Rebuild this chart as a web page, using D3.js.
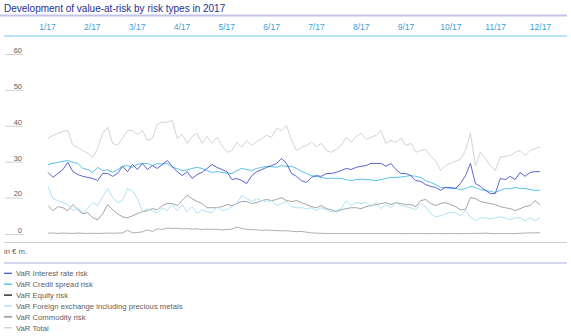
<!DOCTYPE html>
<html><head><meta charset="utf-8">
<script src="https://cdn.jsdelivr.net/npm/d3@7"></script>
<style>
body{margin:0;background:#fff;}
svg text{font-family:Arial,"Liberation Sans",Helvetica,sans-serif;}
</style></head><body>
<svg id="chart" width="571" height="336"></svg>
<script>
// Month labels along the top and value ticks on the left (in € m.)
const months = ["1/17","2/17","3/17","4/17","5/17","6/17","7/17","8/17","9/17","10/17","11/17","12/17"];
const yTicks = [0, 20, 30, 40, 50, 60];

// Series names as shown in the legend
const seriesNames = [
  "VaR Interest rate risk",
  "VaR Credit spread risk",
  "VaR Equity risk",
  "VaR Foreign exchange including precious metals",
  "VaR Commodity risk",
  "VaR Total"
];

// Sampled values through 2017 (roughly every 2-3 trading days), € m.
const interestRate = [27.0,25.6,26.7,27.8,29.8,27.2,26.4,25.9,25.6,25.3,
  24.7,26.7,26.7,25.9,26.7,28.7,27.2,29.2,27.8,29.5,
  27.8,28.9,28.1,29.2,30.3,28.7,27.2,26.1,27.2,25.3,
  26.4,27.0,28.1,29.2,28.4,27.8,27.2,25.0,25.3,24.7,
  23.9,26.1,27.2,27.8,28.4,28.9,29.5,30.9,29.5,26.7,
  25.9,24.7,24.2,25.6,26.1,25.9,26.7,26.7,27.0,27.5,
  28.1,27.8,28.4,28.7,28.9,29.5,29.5,29.5,28.7,29.5,
  27.8,26.7,26.7,26.1,24.7,24.5,23.6,23.1,22.8,22.0,
  22.8,22.8,22.5,23.9,26.1,29.5,23.9,23.1,22.0,21.1,
  21.1,25.3,25.0,25.9,25.0,27.0,25.9,27.0,27.2,27.2];

const creditSpread = [29.2,29.5,29.8,30.1,30.3,29.8,29.5,28.1,27.8,27.0,
  28.4,27.5,27.7,27.0,27.8,28.7,28.9,28.4,29.2,29.5,
  29.5,28.9,29.5,29.3,29.5,28.4,28.1,27.5,27.7,28.1,
  28.4,28.1,27.5,27.0,27.2,27.0,26.8,26.7,27.5,28.1,
  27.8,27.5,28.1,28.4,28.7,28.6,28.4,28.9,28.7,28.7,
  28.1,27.3,26.7,26.1,25.9,25.6,25.3,25.4,25.3,25.3,
  25.0,24.7,25.0,25.1,25.0,24.9,24.7,25.0,25.3,25.6,
  25.6,25.7,25.9,26.1,25.9,25.6,24.7,24.2,23.6,22.8,
  22.8,22.5,22.6,22.2,22.5,23.1,22.8,22.2,22.0,21.7,
  21.4,22.0,22.5,22.4,22.8,22.5,22.5,22.2,22.0,22.0];

const equity = [15.6,12.8,15.0,14.4,12.8,16.1,13.3,11.1,11.7,8.9,
  7.8,11.1,16.1,13.3,11.1,9.4,8.9,10.0,11.1,12.2,
  12.8,13.9,13.3,15.6,16.7,16.7,15.6,18.3,20.6,19.4,
  17.8,16.7,14.4,14.4,14.4,15.0,16.1,15.6,16.7,17.8,
  17.8,16.7,17.2,18.3,18.9,18.3,18.9,20.0,18.3,17.8,
  18.3,17.2,16.1,15.0,14.4,15.6,13.9,13.3,12.2,13.3,
  13.9,14.4,14.4,13.9,15.0,15.6,16.1,16.7,17.2,16.1,
  17.2,16.7,16.1,16.1,15.0,18.3,18.9,16.7,15.6,16.7,
  17.2,16.1,15.0,13.3,13.3,20.0,19.4,17.8,17.2,16.7,
  16.1,15.0,14.4,13.9,12.8,13.9,15.0,15.6,18.3,16.1];

const foreignExchange = [23.1,19.4,18.3,17.2,16.1,12.8,14.4,11.7,13.9,17.2,
  15.6,20.3,22.5,20.0,17.2,18.3,22.5,21.9,19.4,12.2,
  13.9,12.8,11.7,14.4,12.8,16.1,12.8,16.1,12.2,15.0,
  11.1,13.3,12.2,11.7,15.0,12.8,13.3,15.0,16.7,20.6,
  19.4,17.8,19.4,18.3,17.8,18.3,15.6,16.7,17.8,15.0,
  14.4,14.4,13.9,14.4,12.8,14.4,13.3,12.2,12.8,13.9,
  18.3,15.6,17.2,16.7,17.2,15.0,17.2,13.9,16.1,14.4,
  17.2,15.6,15.0,14.4,13.3,16.7,15.0,11.1,9.4,10.0,
  11.1,11.7,11.7,10.0,12.8,9.4,7.2,8.9,8.9,8.3,
  8.9,9.4,8.9,7.8,8.9,8.9,7.2,8.9,7.2,8.9];

const commodity = [0.4,0.6,0.3,0.5,0.4,0.3,0.5,0.4,0.3,0.4,
  0.3,0.4,0.5,0.4,0.5,0.6,2.0,0.7,0.8,1.2,
  2.3,1.4,2.8,2.5,3.3,3.0,3.2,2.8,3.0,2.6,
  2.9,2.4,2.7,2.5,2.6,2.2,2.5,2.6,3.8,3.0,
  2.6,2.4,2.3,2.0,2.2,2.0,1.9,1.7,1.8,1.5,
  1.3,1.4,1.0,0.6,0.5,0.4,0.3,0.3,0.2,0.3,
  0.2,0.3,0.2,0.3,0.2,0.2,0.3,0.2,0.3,0.2,
  0.3,0.2,0.2,0.3,0.2,0.3,0.2,0.2,0.3,0.2,
  0.2,0.3,0.2,0.2,0.3,0.2,0.4,0.3,0.5,0.3,
  0.2,0.3,0.2,0.3,0.2,0.4,0.5,0.6,0.6,0.7];

const total = [36.5,37.3,37.9,38.4,38.7,34.5,34.0,33.1,32.3,31.2,
  33.7,37.9,39.6,35.1,34.5,36.5,38.7,38.7,37.6,38.7,
  35.9,36.5,40.4,41.0,41.0,41.5,36.5,37.6,35.1,37.0,
  37.9,35.1,37.0,35.1,36.8,34.5,32.6,33.1,35.4,34.0,
  35.9,34.5,35.6,36.5,37.3,36.8,39.3,38.7,40.1,35.9,
  33.1,34.0,34.5,35.4,34.2,35.1,33.1,32.6,33.4,34.5,
  36.8,35.4,37.0,37.9,36.2,36.8,37.3,38.7,35.1,35.9,
  35.4,36.5,34.5,35.1,32.6,33.1,33.4,31.5,30.3,27.5,
  28.9,29.5,30.1,30.6,33.1,37.9,28.9,32.6,30.9,28.9,
  27.5,31.2,31.5,31.7,32.6,33.1,31.7,33.1,33.6,34.2];

const seriesValues = [interestRate, creditSpread, equity, foreignExchange, commodity, total];
const lineColors = ["#3a4cc6", "#3cb6e6", "#000000", "#a6dcf5", "#7a7a7a", "#c9c9c9"];
const lineWidths = [0.85, 0.85, 0.8, 0.9, 0.8, 0.9];
const lineOpacity = [1, 1, 0.45, 1, 0.75, 0.9];

const svg = d3.select("#chart");
const textGrey = "#5e5e5e";

// Title and rule
svg.append("text").attr("x", 4).attr("y", 11.5)
  .attr("font-size", 10).attr("fill", "#24308e")
  .text("Development of value-at-risk by risk types in 2017");
svg.append("line").attr("x1", 0).attr("x2", 567).attr("y1", 15.5).attr("y2", 15.5)
  .attr("stroke", "#c3c3ea").attr("stroke-width", 2);

// Month header
const xMonth = d3.scalePoint().domain(months).range([47, 540]);
const monthAxis = svg.append("g").attr("transform", "translate(0,30)")
  .call(d3.axisTop(xMonth).tickSize(0).tickPadding(0));
monthAxis.select(".domain").remove();
monthAxis.selectAll("text").attr("font-size", 8.5).attr("fill", "#3a9fd6")
  .attr("font-family", "Arial, 'Liberation Sans', sans-serif");
svg.append("line").attr("x1", 4).attr("x2", 567).attr("y1", 36).attr("y2", 36)
  .attr("stroke", "#74c9f2").attr("stroke-width", 1);

// Value scale: 0–20 occupies one band, 20–60 four bands
const y = d3.scaleLinear().domain([0, 20, 60]).range([234, 197.5, 54]);
const yAxis = svg.append("g").attr("transform", "translate(23,0)")
  .call(d3.axisLeft(y).tickValues(yTicks).tickSize(18).tickFormat(d3.format("d")));
yAxis.select(".domain").remove();
yAxis.selectAll(".tick line").attr("stroke", "#c4c4c4").attr("stroke-width", 0.8);
yAxis.selectAll("text").attr("x", -1).attr("dy", "-1.6").attr("font-size", 7.5)
  .attr("fill", textGrey).attr("font-family", "Arial, 'Liberation Sans', sans-serif");

// Series lines
const n = total.length;
const x = d3.scaleLinear().domain([0, n - 1]).range([48, 540]);
const line = d3.line().x((d, i) => x(i)).y(d => y(d));
const drawOrder = [5, 4, 2, 3, 1, 0];
drawOrder.forEach(k => {
  svg.append("path").datum(seriesValues[k])
    .attr("fill", "none").attr("stroke", lineColors[k])
    .attr("stroke-width", lineWidths[k]).attr("stroke-opacity", lineOpacity[k])
    .attr("stroke-linejoin", "round")
    .attr("d", line);
});

// Footer rules and unit
svg.append("line").attr("x1", 4).attr("x2", 567).attr("y1", 242.5).attr("y2", 242.5)
  .attr("stroke", "#cfcfcf").attr("stroke-width", 1);
svg.append("text").attr("x", 4).attr("y", 254).attr("font-size", 7.7)
  .attr("fill", textGrey).text("in € m.");
svg.append("line").attr("x1", 4).attr("x2", 567).attr("y1", 263).attr("y2", 263)
  .attr("stroke", "#a9b3e2").attr("stroke-width", 1);

// Legend
const legend = svg.append("g");
seriesNames.forEach((name, i) => {
  const cy = 273.3 + i * 10.9;
  legend.append("line").attr("x1", 4).attr("x2", 12).attr("y1", cy).attr("y2", cy)
    .attr("stroke", lineColors[i]).attr("stroke-width", 1.2);
  legend.append("text").attr("x", 16).attr("y", cy + 2.8)
    .attr("font-size", 7.7).attr("fill", textGrey).text(name);
});
</script>
</body></html>
